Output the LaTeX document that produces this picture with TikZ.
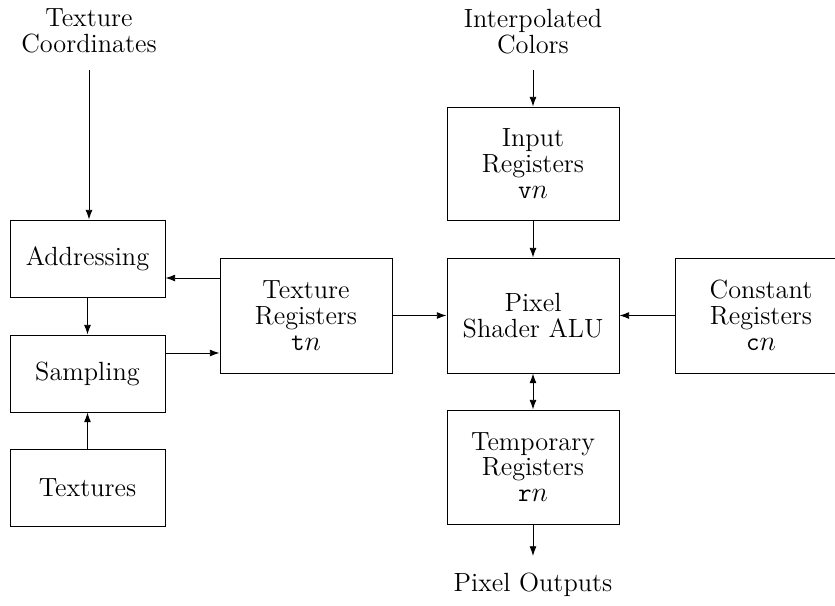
\documentclass[tikz,border=0pt]{standalone}
\usetikzlibrary{arrows.meta}
\def\px{0.513pt}
\tikzset{
  every node/.style={font=\fontsize{13.5pt}{13.3pt}\selectfont},
  smallbox/.style={draw, align=center, minimum width=155*\px, minimum height=77*\px, inner sep=0pt},
  bigbox/.style={draw, align=center, minimum width=172*\px, minimum height=115*\px, inner sep=0pt},
  lbl/.style={align=center, inner sep=0pt},
  arr/.style={-{Latex[length=5pt,width=3.6pt]}},
  darr/.style={{Latex[length=5pt,width=3.6pt]}-{Latex[length=5pt,width=3.6pt]}},
}
\begin{document}
\begin{tikzpicture}[x=0.513pt, y=-0.513pt, line width=0.5pt]
\useasboundingbox (0,0) rectangle (835,605);
\begin{scope}
\clip (0,0) rectangle (835,605);
\node[smallbox] (addr) at (87.5,258.5) {Addressing};
\node[smallbox] (samp) at (87.5,373.5) {Sampling};
\node[smallbox] (tex) at (87.5,487.5) {Textures};
\node[bigbox] (treg) at (306,315.5) {Texture\\Registers\\\texttt{t}$n$};
\node[bigbox] (alu) at (533,315.5) {Pixel\\Shader ALU};
\node[bigbox, minimum height=113*\px] (inp) at (533,163.5) {Input\\Registers\\\texttt{v}$n$};
\node[bigbox, minimum height=114*\px] (tmp) at (533,467) {Temporary\\Registers\\\texttt{r}$n$};
\node[bigbox] (cst) at (761,315.5) {Constant\\Registers\\\texttt{c}$n$};
\node[lbl] (tc) at (89,31) {Texture\\Coordinates};
\node[lbl] (ic) at (533,32) {Interpolated\\Colors};
\node[lbl] (po) at (533,585) {Pixel Outputs};
\coordinate (tcs) at (89,70);
\coordinate (ics) at (533,70);
\coordinate (poe) at (533,556);
\end{scope}
\draw[arr] (tcs) -- (addr.north -| tcs);
\draw[arr] (treg.west |- 0,278) -- (addr.east |- 0,278);
\draw[arr] (addr) -- (samp);
\draw[arr] (samp.east |- 0,353) -- (treg.west |- 0,353);
\draw[arr] (tex) -- (samp);
\draw[arr] (treg) -- (alu);
\draw[arr] (ics) -- (inp);
\draw[arr] (inp) -- (alu);
\draw[arr] (cst) -- (alu);
\draw[darr] (alu) -- (tmp);
\draw[arr] (tmp) -- (poe);
\end{tikzpicture}
\end{document}
